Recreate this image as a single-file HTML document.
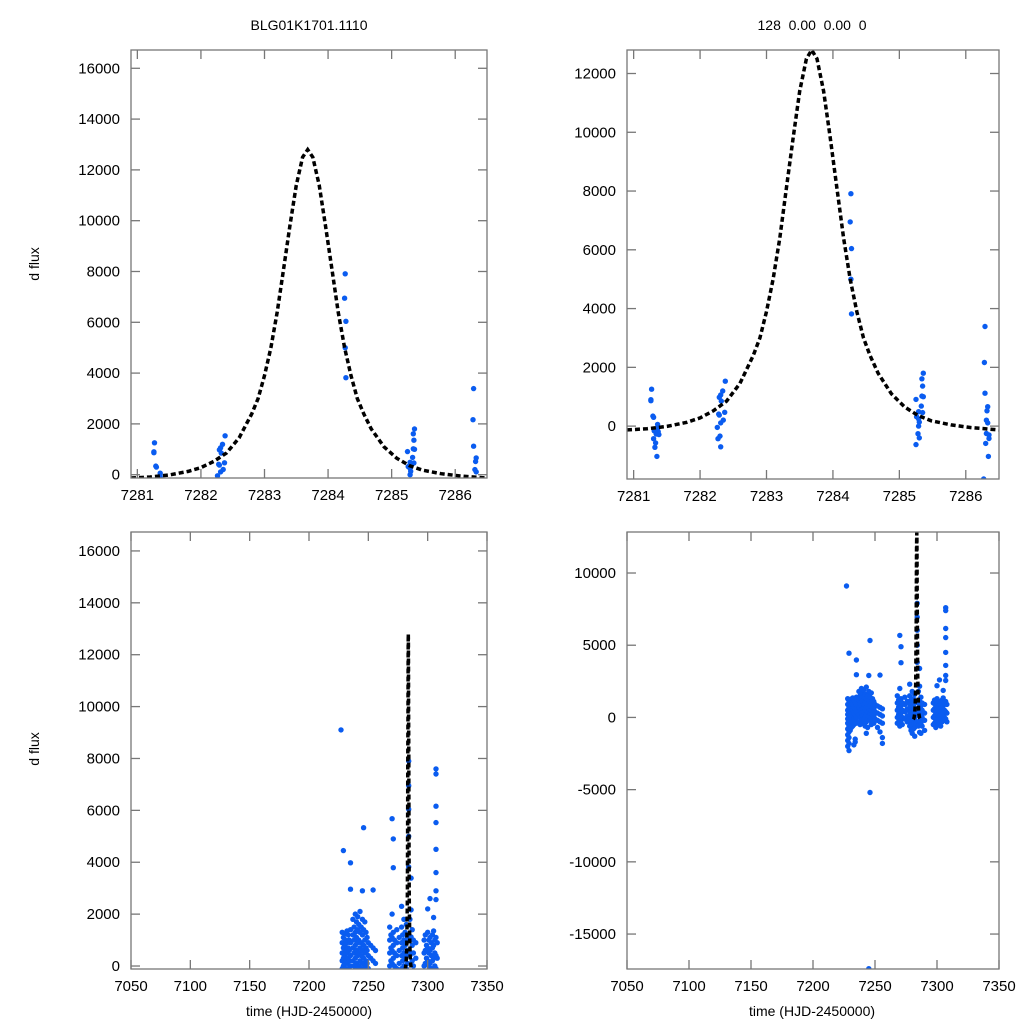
<!DOCTYPE html>
<html><head><meta charset="utf-8"><style>
html,body{margin:0;padding:0;background:#fff;width:1024px;height:1024px;overflow:hidden;}
svg{display:block;font-family:"Liberation Sans",Arial,sans-serif;}
</style></head><body>
<svg id="chart" width="1024" height="1024" viewBox="0 0 1024 1024">
<text x="309" y="30" font-size="14" text-anchor="middle">BLG01K1701.1110</text>
<text x="812" y="30" font-size="14" text-anchor="middle" xml:space="preserve">128  0.00  0.00  0</text>
<text transform="translate(39,264) rotate(-90)" font-size="14" text-anchor="middle">d flux</text>
<text transform="translate(39,749) rotate(-90)" font-size="14" text-anchor="middle">d flux</text>
<text x="309" y="1016" font-size="14" text-anchor="middle">time (HJD-2450000)</text>
<text x="812" y="1016" font-size="14" text-anchor="middle">time (HJD-2450000)</text>
</svg>
<script>
// ---- data ----
const topT = [7281.27,7281.26,7281.26,7281.29,7281.30,7281.36,7281.36,7281.31,7281.37,7281.34,7281.38,7281.30,7281.33,7281.32,7281.35,
 7282.38,7282.34,7282.31,7282.29,7282.32,7282.37,7282.29,7282.28,7282.35,7282.31,7282.26,7282.30,7282.27,7282.31,
 7284.27,7284.26,7284.28,7284.27,7284.28,
 7285.36,7285.34,7285.35,7285.34,7285.36,7285.25,7285.33,7285.35,7285.29,7285.26,7285.29,7285.30,7285.29,7285.25,7285.28,7285.30,
 7286.29,7286.28,7286.29,7286.33,7286.32,7286.31,7286.33,7286.31,7286.35,7286.30,7286.35,7286.34,7286.27];
const topV = [1255,865,900,340,300,58,-80,-160,-190,-270,-290,-430,-570,-720,-1030,
 1530,1195,1060,980,850,470,376,410,205,110,-45,-340,-430,-705,
 7910,6950,6040,5000,3820,
 1800,1610,1360,1020,1000,910,680,460,490,320,250,135,0,-630,-260,-400,
 3390,2165,1120,660,520,200,110,-250,-300,-590,-420,-1030,-1800];
const modelT = [7280.9,7281.2,7281.5,7281.8,7282.0,7282.2,7282.4,7282.6,7282.8,7282.9,7283.0,7283.1,7283.2,7283.3,7283.4,7283.5,7283.6,7283.68,7283.76,7283.86,7283.96,7284.06,7284.16,7284.26,7284.36,7284.46,7284.56,7284.68,7284.88,7285.08,7285.28,7285.48,7285.78,7286.08,7286.5];
const modelV = [-130,-90,-10,130,280,520,850,1450,2400,3000,3900,5000,6400,8100,9800,11400,12500,12800,12500,11400,9800,8100,6400,5000,3900,3000,2400,1800,1100,650,360,180,40,-50,-130];
const seasonDays = [7227,7228,7229,7230,7231,7232,7233,7234,7235,7237,7238,7239,7240,7241,7242,7243,7244,7245,7246,7247,7248,7249,7250,7252,7254,7256,
 7268,7269,7270,7271,7272,7274,7276,7278,7279,7280,7281,7282,7283,7284,7285,7286,7287,7288,7290,
 7297,7298,7299,7300,7301,7302,7303,7304,7305,7306,7307,7308];
const seasonVals = [[9100],
 [1300,900,500,200,-100,-400,-800,-1200,-1600,-2000],
 [1100,700,300,0,-300,-600,-1000,-1400,-1800,-2300,4450],
 [1250,800,400,100,-200,-500,-900],
 [1000,600,200,-100,-400,-700,300],
 [1350,900,500,100,-300,-600],
 [1200,700,300,-100,-500,-1900],
 [1000,600,200,-200,-1500,-1700],
 [1400,900,400,0,-400,3980,2960],
 [1800,1200,700,200,-300],
 [1500,1000,500,0,-500],
 [2000,1300,800,300,-200],
 [1700,1100,600,100,-400],
 [1900,1400,900,400,-100],
 [1600,1000,500,0,-600],
 [2100,1300,700,200,-300,-1100],
 [1500,900,400,-100,-700],
 [1800,1200,600,100,2900,-17400],
 [1400,800,300,-200,5330,-5200],
 [1700,1000,500,0,-500],
 [1300,700,200,-300],
 [1100,600,100,-400],
 [900,400,-100],
 [800,300,-200,-700],
 [700,200,-300,-1000,2930],
 [600,100,-400,-1400,-1800],
 [1500,1000,500,0,-400],
 [1200,700,200,-300],
 [2000,1100,600,100,-600,5680],
 [1300,800,300,-200,4900,3790],
 [1000,500,0,-500],
 [1400,900,400,-100],
 [1100,600,100,-300],
 [2300,1500,900,400,-100,-600],
 [1200,700,200,-300,-900],
 [1800,1000,500,0,-500,-1100],
 [1300,800,300,-200,-800,900],
 [1600,1000,400,-100,-700,-1300],
 [1100,600,100,-400],
 [7900,6950,6040,5000,3820],
 [1800,1000,400,-300,-600],
 [3390,2165,1120,500,-250,-1030],
 [1400,800,200,-400,-1100],
 [1000,500,0,-600],
 [900,300,-200,-900],
 [1000,500,0,-500],
 [1200,600,100,-400],
 [800,300,-200,-700],
 [1300,700,200,-300,2200],
 [1000,500,0,-500],
 [1100,600,100,-400,2600],
 [900,400,-100,-600],
 [1200,700,200,-300],
 [1350,800,300,-200,1870],
 [1000,500,0],
 [7600,7400,6160,5530,4500,3600,2900,2560,1100,400,-100],
 [900,300,-300]];
const xTicksTop = [7281,7282,7283,7284,7285,7286];
const xTicksBottom = [7050,7100,7150,7200,7250,7300,7350];
const yTicksTL = [0,2000,4000,6000,8000,10000,12000,14000,16000];
const yTicksTR = [0,2000,4000,6000,8000,10000,12000];
const yTicksBL = [0,2000,4000,6000,8000,10000,12000,14000,16000];
const yTicksBR = [-15000,-10000,-5000,0,5000,10000];

const NS='http://www.w3.org/2000/svg';
const svg=document.getElementById('chart');
function mk(tag,attrs,parent){const e=document.createElementNS(NS,tag);for(const k in attrs)e.setAttribute(k,attrs[k]);(parent||svg).appendChild(e);return e;}

function panel(cfg){
  const g=mk('g',{});
  
  
  const sx=t=>cfg.x0+(t-cfg.tmin)/(cfg.tmax-cfg.tmin)*(cfg.x1-cfg.x0);
  const sy=v=>cfg.y1-(v-cfg.vmin)/(cfg.vmax-cfg.vmin)*(cfg.y1-cfg.y0);
  const cid='clip-'+cfg.name;
  const cp=mk('clipPath',{id:cid},g);
  mk('rect',{x:cfg.x0,y:cfg.y0,width:cfg.x1-cfg.x0,height:cfg.y1-cfg.y0},cp);
  const plot=mk('g',{'clip-path':'url(#'+cid+')'},g);
  const pts=mk('g',{},plot);
  
  
  cfg.points.forEach(p=>{
    const c=mk('circle',{cx:sx(p[0]).toFixed(1),cy:sy(p[1]).toFixed(1),r:2.7,fill:'#0a5cf0'},pts);
    
    
  });
  const d=modelT.map((t,i)=>(i?'L':'M')+sx(t).toFixed(1)+','+sy(modelV[i]).toFixed(1)).join('');
  const m=mk('path',{d:d,fill:'none',stroke:'#000','stroke-width':3.5,'stroke-dasharray':'5 3'},plot);
  
  
  const fr=mk('rect',{x:cfg.x0,y:cfg.y0,width:cfg.x1-cfg.x0,height:cfg.y1-cfg.y0,fill:'none',stroke:'#777','stroke-width':1.3},g);
  
  
  cfg.xt.forEach(t=>{
    const x=sx(t);
    mk('line',{x1:x,x2:x,y1:cfg.y1,y2:cfg.y1-9,stroke:'#777','stroke-width':1.3},g);
    mk('line',{x1:x,x2:x,y1:cfg.y0,y2:cfg.y0+9,stroke:'#777','stroke-width':1.3},g);
    const tx=mk('text',{x:x,y:cfg.y1+22,'font-size':15,'text-anchor':'middle'},g);
    tx.textContent=t;
    
    
  });
  cfg.yt.forEach(v=>{
    const y=sy(v);
    mk('line',{x1:cfg.x0,x2:cfg.x0+9,y1:y,y2:y,stroke:'#777','stroke-width':1.3},g);
    mk('line',{x1:cfg.x1,x2:cfg.x1-9,y1:y,y2:y,stroke:'#777','stroke-width':1.3},g);
    const tx=mk('text',{x:cfg.x0-11,y:y+5,'font-size':15,'text-anchor':'end'},g);
    tx.textContent=v;
    
    
  });
}
const topPts=topT.map((t,i)=>[t,topV[i]]);
const botPts=[];
seasonDays.forEach((t,i)=>seasonVals[i].forEach(v=>botPts.push([t,v])));
panel({name:'top-left-panel',x0:131,x1:487,y0:50,y1:478,tmin:7280.9,tmax:7286.5,vmin:-130,vmax:16720,xt:xTicksTop,yt:yTicksTL,points:topPts});
panel({name:'top-right-panel',x0:627,x1:999,y0:50,y1:479,tmin:7280.90,tmax:7286.5,vmin:-1800,vmax:12800,xt:xTicksTop,yt:yTicksTR,points:topPts});
panel({name:'bottom-left-panel',x0:131,x1:487,y0:532,y1:969,tmin:7050,tmax:7350,vmin:-115,vmax:16730,xt:xTicksBottom,yt:yTicksBL,points:botPts});
panel({name:'bottom-right-panel',x0:627,x1:999,y0:532,y1:969,tmin:7050,tmax:7350,vmin:-17420,vmax:12840,xt:xTicksBottom,yt:yTicksBR,points:botPts});
</script>
</body></html>
